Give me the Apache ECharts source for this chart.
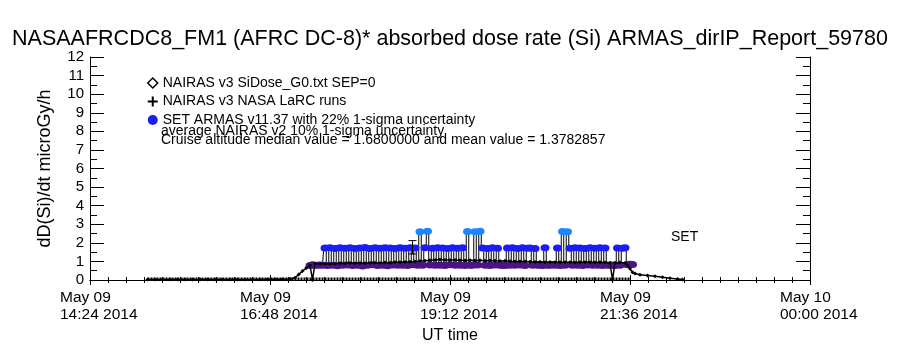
<!DOCTYPE html>
<html>
<head>
<meta charset="utf-8">
<script src="https://cdn.jsdelivr.net/npm/echarts@6/dist/echarts.min.js"></script>
<style>html,body{margin:0;padding:0;background:#fff}#c{width:900px;height:350px}</style>
</head>
<body>
<div id="c"></div>
<script>
// Time in minutes since 2014-05-09 00:00 UT
const xTickMin = 864, xTickMax = 1440, xTickStep = 144;
const yTickLabels = ['0','1','2','3','4','5','6','7','8','9','10','11','12'];

// NAIRAS v3 SiDose_G0.txt SEP=0 (diamonds)
const nairasTime = [910,916,922,928,934,940,946,952,958,964,970,976,982,988,994,1000,1006,1012,1018,1024,
  1028,1031,1034,1037,1040,1042,1044,
  1048,1052,1056,1060,1064,1068,1072,1076,1080,1084,1088,1092,1096,1100,1104,1108,1112,1116,1120,1124,
  1128,1132,1136,1140,1144,1148,1152,1156,1160,1164,1168,1172,1176,1180,1184,1188,1192,1196,1200,1204,
  1208,1212,1216,1220,1224,1228,1232,1236,1240,1244,1248,1252,1256,1260,1264,1268,1272,1276,1280,1282,
  1284,1288,1292,1294,1296,1298,1300,1304,1310,1316,1322,1328,1334,1338];
const nairasDose = [0.03,0.03,0.03,0.03,0.03,0.03,0.03,0.03,0.03,0.03,0.03,0.03,0.03,0.03,0.03,0.03,0.03,0.04,0.04,0.05,
  0.12,0.30,0.48,0.64,0.80,0.00,0.88,
  0.87,0.88,0.86,0.88,0.90,0.89,0.91,0.90,0.92,0.90,0.91,0.93,0.92,0.94,0.93,0.95,0.96,0.97,0.98,1.00,
  1.02,1.04,1.06,1.08,1.10,1.08,1.07,1.08,1.06,1.05,1.06,1.05,1.06,1.04,1.05,1.04,1.02,1.03,1.01,1.00,
  0.99,1.00,0.98,0.97,0.98,0.96,0.97,0.95,0.96,0.95,0.96,0.94,0.95,0.96,0.95,0.94,0.95,0.94,0.93,0.00,
  0.93,0.94,0.92,0.80,0.60,0.42,0.35,0.28,0.24,0.20,0.15,0.10,0.05,0.03];

// NAIRAS v3 NASA LaRC runs (plus row near zero)
const larcTime = [910,960,1010,1060,1110,1160,1210,1260,1296];
const larcDose = [0.07,0.07,0.07,0.07,0.07,0.07,0.07,0.07,0.07];

// SET ARMAS v11.37
const armasTime = [1040,1042,1044,1046,1048,1050,1052,1054,1056,1058,1060,1062,1064,1066,1068,1070,1072,1074,1076,1078,
  1080,1082,1084,1086,1088,1090,1092,1094,1096,1098,1100,1102,1104,1106,1108,1110,1112,1114,1116,1118,
  1120,1122,1124,1126,1128,1130,1132,1134,1136,1138,1140,1142,1144,1146,1148,1150,1152,1154,1156,1158,
  1160,1162,1164,1166,1168,1170,1172,1174,1176,1178,1180,1182,1184,1186,1188,1190,1192,1194,1196,1198,
  1200,1202,1204,1206,1208,1210,1212,1214,1216,1218,1220,1222,1224,1226,1228,1230,1232,1234,1236,1238,
  1240,1242,1244,1246,1248,1250,1252,1254,1256,1258,1260,1262,1264,1266,1268,1270,1272,1274,1276,1278,
  1280,1282,1284,1286,1288,1290,1292,1294,1296,1298];
const armasDose = [0.78,0.82,0.80,0.79,0.81,0.80,1.72,0.78,1.74,0.80,1.70,0.77,1.73,0.79,1.71,0.81,1.74,0.78,1.69,0.80,
  1.72,0.76,1.75,0.79,1.70,0.82,1.73,0.78,1.71,0.80,1.74,0.77,1.72,0.81,1.70,0.79,1.73,0.80,1.71,0.78,
  1.74,0.82,1.72,0.79,2.60,0.80,1.73,2.62,0.81,1.71,0.79,1.74,0.80,1.72,0.78,1.70,0.82,1.73,0.79,1.71,
  0.80,1.74,0.78,2.61,0.80,0.79,2.60,0.81,2.62,1.72,0.80,1.70,0.78,1.73,0.81,1.71,0.79,0.80,0.78,1.72,
  0.80,1.74,0.79,1.70,0.81,1.73,0.78,1.71,1.72,0.80,1.70,0.79,0.81,0.78,1.73,0.80,0.79,0.82,0.80,1.72,
  0.78,2.61,0.80,2.60,1.71,0.79,1.74,0.80,1.72,0.78,1.70,0.81,1.73,0.79,1.71,0.80,1.74,0.78,1.72,0.80,
  0.79,0.81,0.78,1.72,0.80,1.71,1.73,0.82,0.85,0.84];

// cruise median with 22% 1-sigma uncertainty bar: [time, low, high]
const errTime = [1122];
const errLow = [1.40];
const errHigh = [2.12];

const FONT = 'Liberation Sans';
const pair = (t, v) => t.map((x, i) => [x, v[i]]);
const two = n => (n < 10 ? '0' : '') + n;

function xLabel(v) {
  const day = v >= 1440 ? 'May 10' : 'May 09';
  const m = Math.round(v) % 1440;
  return '{a|' + day + '}\n{a|' + two(Math.floor(m / 60)) + ':' + two(m % 60) + ' 2014}';
}

const chart = echarts.init(document.getElementById('c'), null, {renderer: 'canvas'});
const axisCommon = {
  axisLine: {show: true, lineStyle: {color: '#000', width: 1}},
  splitLine: {show: false}
};
chart.setOption({
  animation: false,
  backgroundColor: '#fff',
  title: {
    text: 'NASAAFRCDC8_FM1 (AFRC DC-8)* absorbed dose rate (Si) ARMAS_dirIP_Report_59780',
    left: 'center', top: 23,
    textStyle: {fontSize: 21.5, fontWeight: 'normal', fontFamily: FONT, color: '#000'}
  },
  grid: {left: 90, right: 90, top: 57, bottom: 70},
  legend: {
    orient: 'vertical', left: 142, top: 71, itemWidth: 10, itemHeight: 10, itemGap: 4.5,
    selectedMode: false,
    textStyle: {fontSize: 14, fontFamily: FONT, color: '#000', lineHeight: 14},
    data: [
      {name: 'NAIRAS v3 SiDose_G0.txt SEP=0', icon: 'diamond', itemStyle: {color: '#fff', borderColor: '#000', borderWidth: 1.5}},
      {name: 'NAIRAS v3 NASA LaRC runs', icon: 'path://M4,0H6V4H10V6H6V10H4V6H0V4H4Z', itemStyle: {color: '#000'}},
      {name: 'SET ARMAS v11.37 with 22% 1-sigma uncertainty', icon: 'circle', itemStyle: {color: '#1c1cf5'}}
    ]
  },
  graphic: [
    {type: 'text', left: 161, top: 124, style: {text: 'average NAIRAS v2 10% 1-sigma uncertainty', fontSize: 14, fontFamily: FONT, fill: '#000'}},
    {type: 'text', left: 161, top: 133, style: {text: 'Cruise altitude median value = 1.6800000 and mean value = 1.3782857', fontSize: 14, fontFamily: FONT, fill: '#000'}},
    {type: 'text', left: 671, top: 230, style: {text: 'SET', fontSize: 14, fontFamily: FONT, fill: '#000'}}
  ],
  xAxis: [
    Object.assign({}, axisCommon, {
      type: 'value', position: 'bottom', min: xTickMin, max: xTickMax, interval: xTickStep,
      name: 'UT time', nameLocation: 'middle', nameGap: 44,
      nameTextStyle: {fontSize: 16, fontFamily: FONT, color: '#000'},
      axisTick: {show: true, inside: true, length: 5, lineStyle: {color: '#000'}},
      minorTick: {show: true, splitNumber: 10, length: 3, lineStyle: {color: '#000'}},
      axisLabel: {
        formatter: xLabel, margin: 9, showMinLabel: true, showMaxLabel: true,
        rich: {a: {width: 60, align: 'left', fontSize: 15.5, lineHeight: 17, fontFamily: FONT, color: '#000'}}
      }
    }),
    Object.assign({}, axisCommon, {
      type: 'value', position: 'top', min: xTickMin, max: xTickMax, interval: xTickStep,
      axisTick: {show: true, inside: true, length: 5, lineStyle: {color: '#000'}},
      minorTick: {show: true, splitNumber: 10, length: 3, lineStyle: {color: '#000'}},
      axisLabel: {show: false}
    })
  ],
  yAxis: [
    Object.assign({}, axisCommon, {
      type: 'value', position: 'left', min: 0, max: 12, interval: 1,
      name: 'dD(Si)/dt microGy/h', nameLocation: 'middle', nameGap: 36,
      nameTextStyle: {fontSize: 18, fontFamily: FONT, color: '#000'},
      axisTick: {show: true, inside: true, length: 14, lineStyle: {color: '#000'}},
      minorTick: {show: true, splitNumber: 2, length: 7, lineStyle: {color: '#000'}},
      axisLabel: {formatter: v => yTickLabels[Math.round(v)], fontSize: 15, fontFamily: FONT, color: '#000', margin: 6, showMinLabel: true, showMaxLabel: true}
    }),
    Object.assign({}, axisCommon, {
      type: 'value', position: 'right', min: 0, max: 12, interval: 1,
      axisTick: {show: true, inside: true, length: 14, lineStyle: {color: '#000'}},
      minorTick: {show: true, splitNumber: 2, length: 7, lineStyle: {color: '#000'}},
      axisLabel: {show: false}
    })
  ],
  series: [
    {
      name: 'NAIRAS v3 NASA LaRC runs', type: 'line', data: pair(larcTime, larcDose),
      symbol: 'none', z: 2,
      lineStyle: {color: '#000', width: 2.5, type: [2, 1]}
    },
    {
      name: 'SET ARMAS v11.37 with 22% 1-sigma uncertainty', type: 'line', data: pair(armasTime, armasDose),
      step: 'middle', symbol: 'circle', symbolSize: [9, 7], z: 3,
      lineStyle: {color: '#000', width: 1},
      itemStyle: {color: p => p.value[1] > 2.2 ? '#1a86ff' : (p.value[1] > 1.3 ? '#1c1cf5' : '#4a1482')}
    },
    {
      name: 'NAIRAS v3 SiDose_G0.txt SEP=0', type: 'line', data: pair(nairasTime, nairasDose),
      symbol: 'diamond', symbolSize: 4, z: 4,
      lineStyle: {color: '#000', width: 1.5},
      itemStyle: {color: '#000'}
    },
    {
      type: 'custom', z: 5,
      data: errTime.map((t, i) => [t, errLow[i], errHigh[i]]),
      renderItem: (params, api) => {
        const lo = api.coord([api.value(0), api.value(1)]);
        const hi = api.coord([api.value(0), api.value(2)]);
        const w = 4;
        const st = {stroke: '#000', lineWidth: 1};
        return {type: 'group', children: [
          {type: 'line', shape: {x1: lo[0], y1: lo[1], x2: hi[0], y2: hi[1]}, style: st},
          {type: 'line', shape: {x1: lo[0] - w, y1: lo[1], x2: lo[0] + w, y2: lo[1]}, style: st},
          {type: 'line', shape: {x1: hi[0] - w, y1: hi[1], x2: hi[0] + w, y2: hi[1]}, style: st}
        ]};
      }
    }
  ]
});
</script>
</body>
</html>
